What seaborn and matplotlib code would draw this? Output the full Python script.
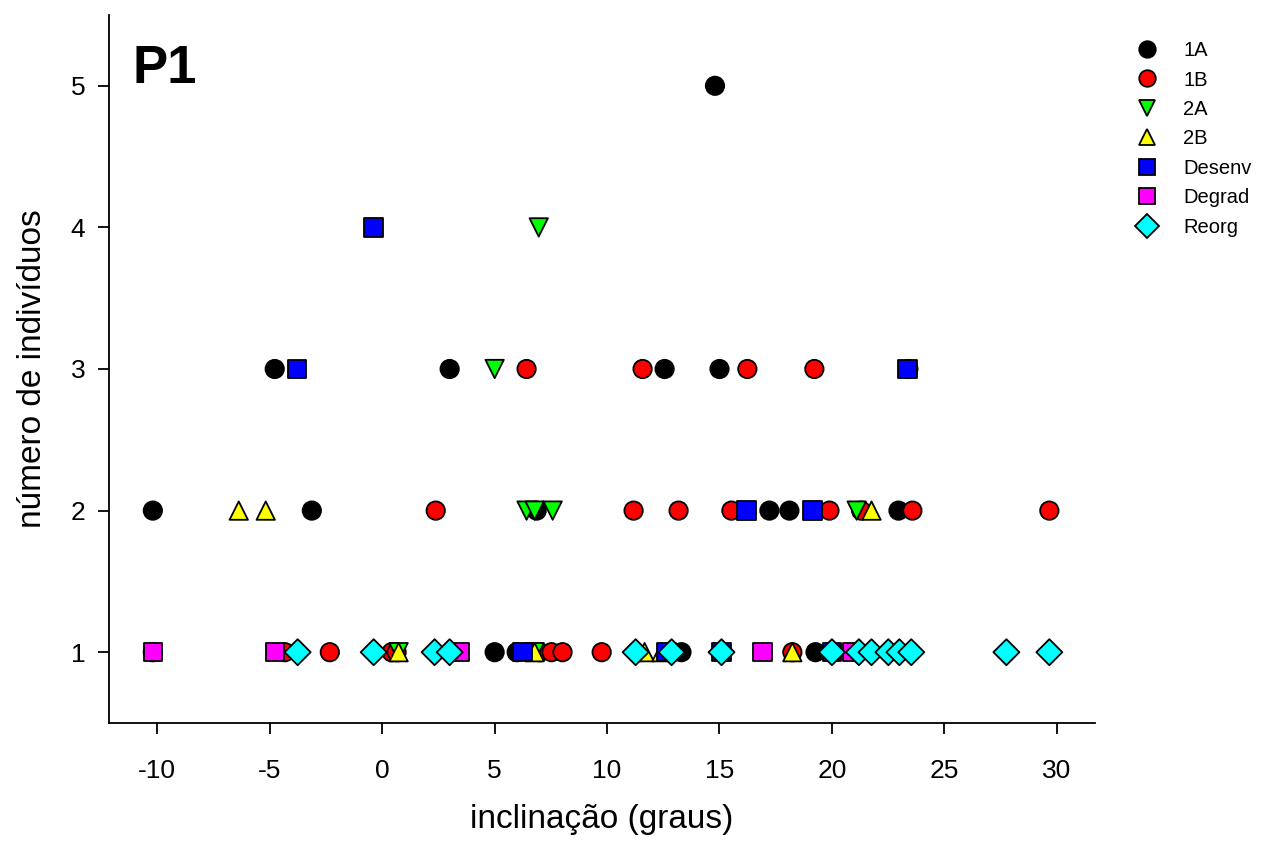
import numpy as np
import pandas as pd
import seaborn as sns
import matplotlib.pyplot as plt

sns.set_theme(style="ticks")
plt.rcParams["font.family"] = ["Liberation Sans", "DejaVu Sans"]
plt.rcParams["text.color"] = "black"
plt.rcParams["axes.labelcolor"] = "black"
plt.rcParams["xtick.color"] = "black"
plt.rcParams["ytick.color"] = "black"
plt.rcParams["axes.unicode_minus"] = False

# categories (drawing order = legend order)
GROUPS = ["1A", "1B", "2A", "2B", "Desenv", "Degrad", "Reorg"]
COLORS = ["#000000", "#FF0000", "#00FF00", "#FFFF00", "#0000FF", "#FF00FF", "#00FFFF"]
MARKERS = ["o", "o", "v", "^", "s", "s", "D"]

# inclinacao (graus) / numero de individuos
x_1a = [14.8, -4.78, 3.0, 12.56, 15.0, 23.4, -10.2, -3.13, 6.87, 17.22, 18.11, 22.96,
        -10.2, 5.0, 5.98, 13.31, 19.27]
y_1a = [5, 3, 3, 3, 3, 3, 2, 2, 2, 2, 2, 2,
        1, 1, 1, 1, 1]

x_1b = [6.42, 11.58, 16.24, 19.22,
        2.38, 11.18, 13.18, 15.53, 19.89, 21.3, 23.58, 29.67,
        -4.33, -2.33, 0.42, 0.64, 7.0, 7.53, 8.02, 9.76, 18.24]
y_1b = [3, 3, 3, 3,
        2, 2, 2, 2, 2, 2, 2, 2,
        1, 1, 1, 1, 1, 1, 1, 1, 1]

x_2a = [6.96, 5.0, 6.42, 6.78, 7.58, 21.1, 0.73, 6.78]
y_2a = [4, 3, 2, 2, 2, 2, 1, 1]

x_2b = [-6.38, -5.18, 21.76, 0.73, 6.78, 11.67, 12.42, 18.24]
y_2b = [2, 2, 2, 1, 1, 1, 1, 1]

x_desenv = [-0.38, -3.8, 23.36, 16.2, 19.13, 6.24, 12.64, 15.09, 20.0]
y_desenv = [4, 3, 3, 2, 2, 1, 1, 1, 1]

x_degrad = [-10.2, -4.78, 3.44, 16.91, 20.9]
y_degrad = [1, 1, 1, 1, 1]

x_reorg = [-3.76, -0.38, 2.33, 3.0, 11.27, 12.87, 15.09, 20.0, 21.2, 21.76,
           22.51, 23.0, 23.53, 27.76, 29.67]
y_reorg = [1] * 15

series = {
    "1A": (x_1a, y_1a), "1B": (x_1b, y_1b), "2A": (x_2a, y_2a), "2B": (x_2b, y_2b),
    "Desenv": (x_desenv, y_desenv), "Degrad": (x_degrad, y_degrad), "Reorg": (x_reorg, y_reorg),
}
df = pd.concat(
    [pd.DataFrame({"x": xs, "y": ys, "grupo": g}) for g, (xs, ys) in series.items()],
    ignore_index=True,
)

fig = plt.figure(figsize=(12.61, 8.41), dpi=100)
ax = fig.add_axes([109 / 1261, 1 - 723 / 841, 986 / 1261, 708 / 841])

sns.scatterplot(
    data=df, x="x", y="y", hue="grupo", style="grupo",
    hue_order=GROUPS, style_order=GROUPS,
    palette=dict(zip(GROUPS, COLORS)), markers=dict(zip(GROUPS, MARKERS)),
    s=175, edgecolor="black", linewidth=1.3, alpha=1, ax=ax,
)

ax.set_xlim(-12.15, 31.7)
ax.set_ylim(0.5, 5.5)
ax.set_xticks(range(-10, 31, 5))
ax.set_yticks(range(1, 6))
for s in ["top", "right"]:
    ax.spines[s].set_visible(False)
for s in ["left", "bottom"]:
    ax.spines[s].set_linewidth(1.3)
    ax.spines[s].set_color("black")
ax.tick_params(axis="x", length=8, width=1.3, labelsize=19, pad=18)
ax.tick_params(axis="y", length=8, width=1.3, labelsize=19, pad=9)
ax.set_xlabel("inclinação (graus)", fontsize=24, labelpad=15)
ax.set_ylabel("número de indivíduos", fontsize=24, labelpad=16)

ax.text(0.024, 0.904, "P1", transform=ax.transAxes, fontsize=38,
        fontweight="bold", va="baseline", ha="left")

handles, labels = ax.get_legend_handles_labels()
ax.legend(handles, labels, loc="upper left", bbox_to_anchor=(1121 / 1261, 1 - 31 / 841),
          bbox_transform=fig.transFigure, frameon=False, prop={"size": 14.5},
          handlelength=1.6, handletextpad=1.0, labelspacing=0.52, borderpad=0,
          markerscale=0.9)

fig.savefig("out.png", dpi=100)
